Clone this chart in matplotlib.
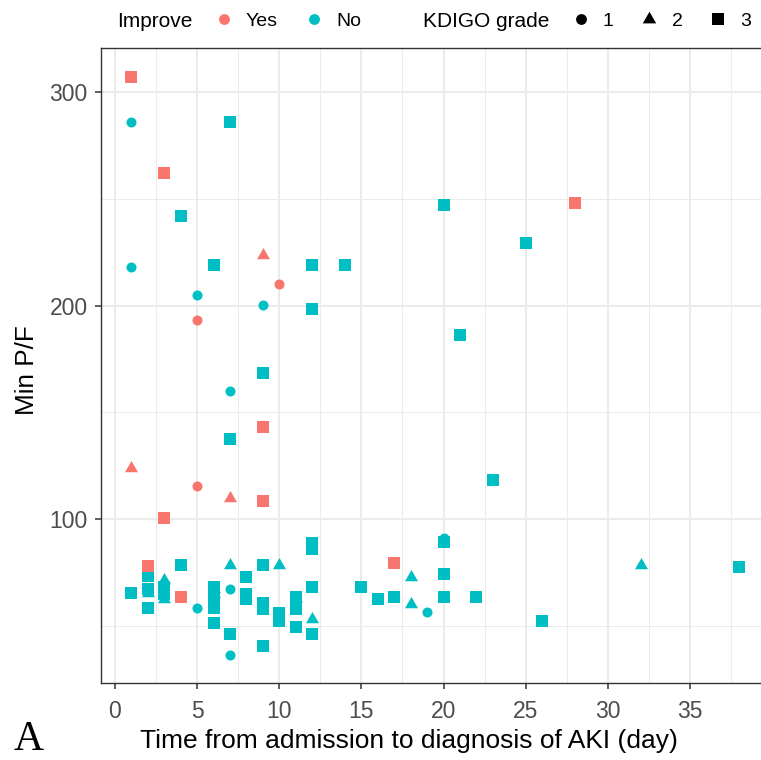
import matplotlib
matplotlib.use('Agg')
import matplotlib.pyplot as plt
from matplotlib.lines import Line2D
import numpy as np

# ---------------- data ----------------
yes_day   = [1, 3, 9, 10, 5, 9, 1, 5, 7, 9, 3, 2, 4, 17, 28]
yes_pf    = [307.1, 262, 223.9, 210, 193.3, 143.1, 124, 115.5, 109.8, 108.4, 100.3, 78.1, 63.3, 79.2, 247.9]
yes_grade = [3, 3, 2, 1, 1, 3, 2, 1, 2, 3, 3, 3, 3, 3, 3]

no_day = [1, 1, 5, 9, 7, 5, 7, 7, 19, 20,
          7, 10, 32, 2, 3, 3, 6, 6, 11, 12, 18, 18,
          7, 4, 6, 12, 14, 12, 9, 7, 20, 25, 21, 23,
          1, 2, 2, 2, 3, 3, 4, 6, 6, 6, 6, 7, 8, 8, 8,
          9, 9, 9, 9, 10, 10, 11, 11, 11, 12, 12, 12, 12,
          15, 16, 17, 20, 20, 20, 22, 26, 38]
no_pf = [286.2, 218, 205, 200.1, 160.1, 58.2, 67.1, 36.3, 56.3, 91,
         78.2, 78.2, 78.2, 65.1, 71.3, 62.3, 67, 64.6, 63.1, 53.1, 72.9, 60,
         286, 242, 219, 219, 219, 198.3, 168.3, 137.3, 247, 229.2, 186.1, 118.1,
         65.2, 73.3, 67, 58.1, 68, 64.6, 78.4, 68, 63.2, 58.4, 51.1, 46, 72.6, 65, 62.3,
         78.3, 60.7, 58, 40.5, 56, 52, 63.3, 58, 49.2, 88.8, 85.7, 68, 46,
         68, 62.4, 63.6, 89.1, 74.1, 63.3, 63.3, 52.1, 77.4]
no_grade = [1] * 10 + [2] * 12 + [3] * 49

improve_labels = ['Yes', 'No']
grade_labels = ['1', '2', '3']

# ---------------- styling ----------------
plt.rcParams['font.family'] = ['Liberation Sans', 'DejaVu Sans']
RED, CYAN = '#F8766D', '#00BFC4'
TRI = [(0, 1), (-0.8660, -0.5), (0.8660, -0.5)]
MARK = {1: 'o', 2: TRI, 3: 's'}
SIZE = {1: 52, 2: 117, 3: 63}
MS = {1: 7.8, 2: 11.2, 3: 8.2}

fig = plt.figure(figsize=(7.61, 7.60), dpi=100)
ax = fig.add_axes([101 / 761, 77 / 760, 668.7 / 761, 635 / 760])


def draw(days, pfs, grades, color):
    days = np.asarray(days)
    pfs = np.asarray(pfs)
    grades = np.asarray(grades)
    for g in (1, 2, 3):
        m = grades == g
        if m.any():
            ax.scatter(days[m], pfs[m], marker=MARK[g], s=SIZE[g], c=color,
                       linewidths=0, zorder=3)


draw(no_day, no_pf, no_grade, CYAN)
draw(yes_day, yes_pf, yes_grade, RED)

ax.set_xlim(-0.85, 39.85)
ax.set_ylim(23.1, 320.8)
ax.set_xticks(np.arange(0, 36, 5))
ax.set_xticks(np.arange(2.5, 40, 5), minor=True)
ax.set_yticks([100, 200, 300])
ax.set_yticks([50, 150, 250], minor=True)

ax.grid(which='major', color='#EBEBEB', lw=1.5)
ax.grid(which='minor', color='#EBEBEB', lw=0.75)
ax.set_axisbelow(True)

for sp in ax.spines.values():
    sp.set_color('#333333')
    sp.set_linewidth(1.0)

ax.tick_params(which='major', length=4, width=1.1, color='#333333',
               labelsize=16.5, labelcolor='#4D4D4D')
ax.tick_params(axis='y', which='major', pad=5.5)
ax.tick_params(axis='x', which='major', pad=8.5)
ax.tick_params(which='minor', length=0)

ax.set_xlabel('Time from admission to diagnosis of AKI (day)', fontsize=19)
ax.xaxis.set_label_coords((408.5 - 101) / 668.7, (683 - 741) / 635)
ax.xaxis.label.set_va('center')
ax.set_ylabel('Min P/F', fontsize=18.8)
ax.yaxis.set_label_coords((27 - 101) / 668.7, (683 - 370) / 635)
ax.yaxis.label.set_va('center')

# ---------------- legends ----------------
ly = 1 - 21.5 / 760
h1 = [Line2D([], [], ls='none', marker='o', color=c, markersize=MS[1], markeredgewidth=0)
      for c in (RED, CYAN)]
fig.legend(handles=h1, labels=improve_labels, ncol=2, loc='center left',
           bbox_to_anchor=(214.3 / 761, ly), frameon=False, fontsize=14,
           handlelength=1.0, handletextpad=0.63, columnspacing=1.36,
           borderpad=0, borderaxespad=0)
h2 = [Line2D([], [], ls='none', marker=MARK[g], color='black', markersize=MS[g],
             markeredgewidth=0) for g in (1, 2, 3)]
fig.legend(handles=h2, labels=grade_labels, ncol=3, loc='center left',
           bbox_to_anchor=(570.8 / 761, ly), frameon=False, fontsize=14,
           handlelength=1.0, handletextpad=0.65, columnspacing=1.33,
           borderpad=0, borderaxespad=0)
fig.text(117 / 761, ly, 'Improve', fontsize=15, ha='left', va='center')
fig.text(423 / 761, ly, 'KDIGO grade', fontsize=15, ha='left', va='center')

fig.text(14 / 761, 0.6 / 760, 'A', family=['Liberation Serif', 'DejaVu Serif'],
         fontsize=30, ha='left', va='bottom')

fig.savefig('out.png', dpi=100)
